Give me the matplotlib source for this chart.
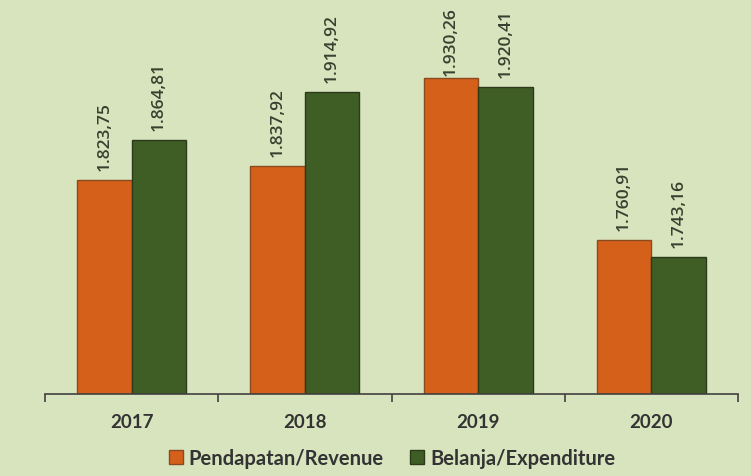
import matplotlib
matplotlib.use("Agg")
import matplotlib.pyplot as plt
import numpy as np

years = ["2017", "2018", "2019", "2020"]
revenue = [1823.75, 1837.92, 1930.26, 1760.91]
expenditure = [1864.81, 1914.92, 1920.41, 1743.16]
rev_labels = ["1.823,75", "1.837,92", "1.930,26", "1.760,91"]
exp_labels = ["1.864,81", "1.914,92", "1.920,41", "1.743,16"]

bg = "#d8e4bd"
orange = "#d5601a"
green = "#3e5e25"

fig = plt.figure(figsize=(7.51, 4.77), dpi=100, facecolor=bg)
ax = fig.add_axes([45/751, 1-395/477, (738-45)/751, (395-12)/477])
ax.set_facecolor(bg)

x = np.arange(len(years))
w = 0.315
b1 = ax.bar(x - w/2, np.array(revenue) - 1600, w, bottom=1600, color=orange,
            edgecolor="#8a4a20", linewidth=1.0, label="Pendapatan/Revenue")
b2 = ax.bar(x + w/2, np.array(expenditure) - 1600, w, bottom=1600, color=green,
            edgecolor="#2a3a1a", linewidth=1.0, label="Belanja/Expenditure")

label_gap = 10.5   # data units above bar top
label_cap = 1933   # highest label baseline so text stays inside the chart
for xs, vals, labs in [(x - w/2, revenue, rev_labels), (x + w/2, expenditure, exp_labels)]:
    for xi, v, t in zip(xs, vals, labs):
        ax.text(xi, min(v + label_gap, label_cap), t,
                rotation=90, ha="center", va="bottom", fontsize=12.5,
                color="#3a4030", family="Open Sans", fontweight="semibold")

ax.set_xlim(-0.5, len(years) - 0.5)
ax.set_ylim(1600, 2000)
ax.set_yticks([])
for s in ["left", "right", "top"]:
    ax.spines[s].set_visible(False)
ax.spines["bottom"].set_color("#404040")
ax.spines["bottom"].set_linewidth(1.2)

ax.set_xticks(x)
ax.set_xticklabels(years, fontsize=13.5, fontweight="bold", color="#333333", family="Lato")
ax.tick_params(axis="x", which="major", length=0, pad=14)
ax.set_xticks(np.arange(-0.5, len(years)), minor=True)
ax.tick_params(axis="x", which="minor", length=6, width=1.2, color="#404040", direction="out")

leg = fig.legend(handles=[b1, b2], loc="center", bbox_to_anchor=(392/751, 1-459/477),
                 ncol=2, frameon=False, handlelength=0.7, handleheight=0.7,
                 handletextpad=0.3, columnspacing=1.3,
                 prop={"family": "Lato", "weight": "bold", "size": 14.5})
for t in leg.get_texts():
    t.set_color("#333333")

fig.savefig("out.png", dpi=100, facecolor=bg)
